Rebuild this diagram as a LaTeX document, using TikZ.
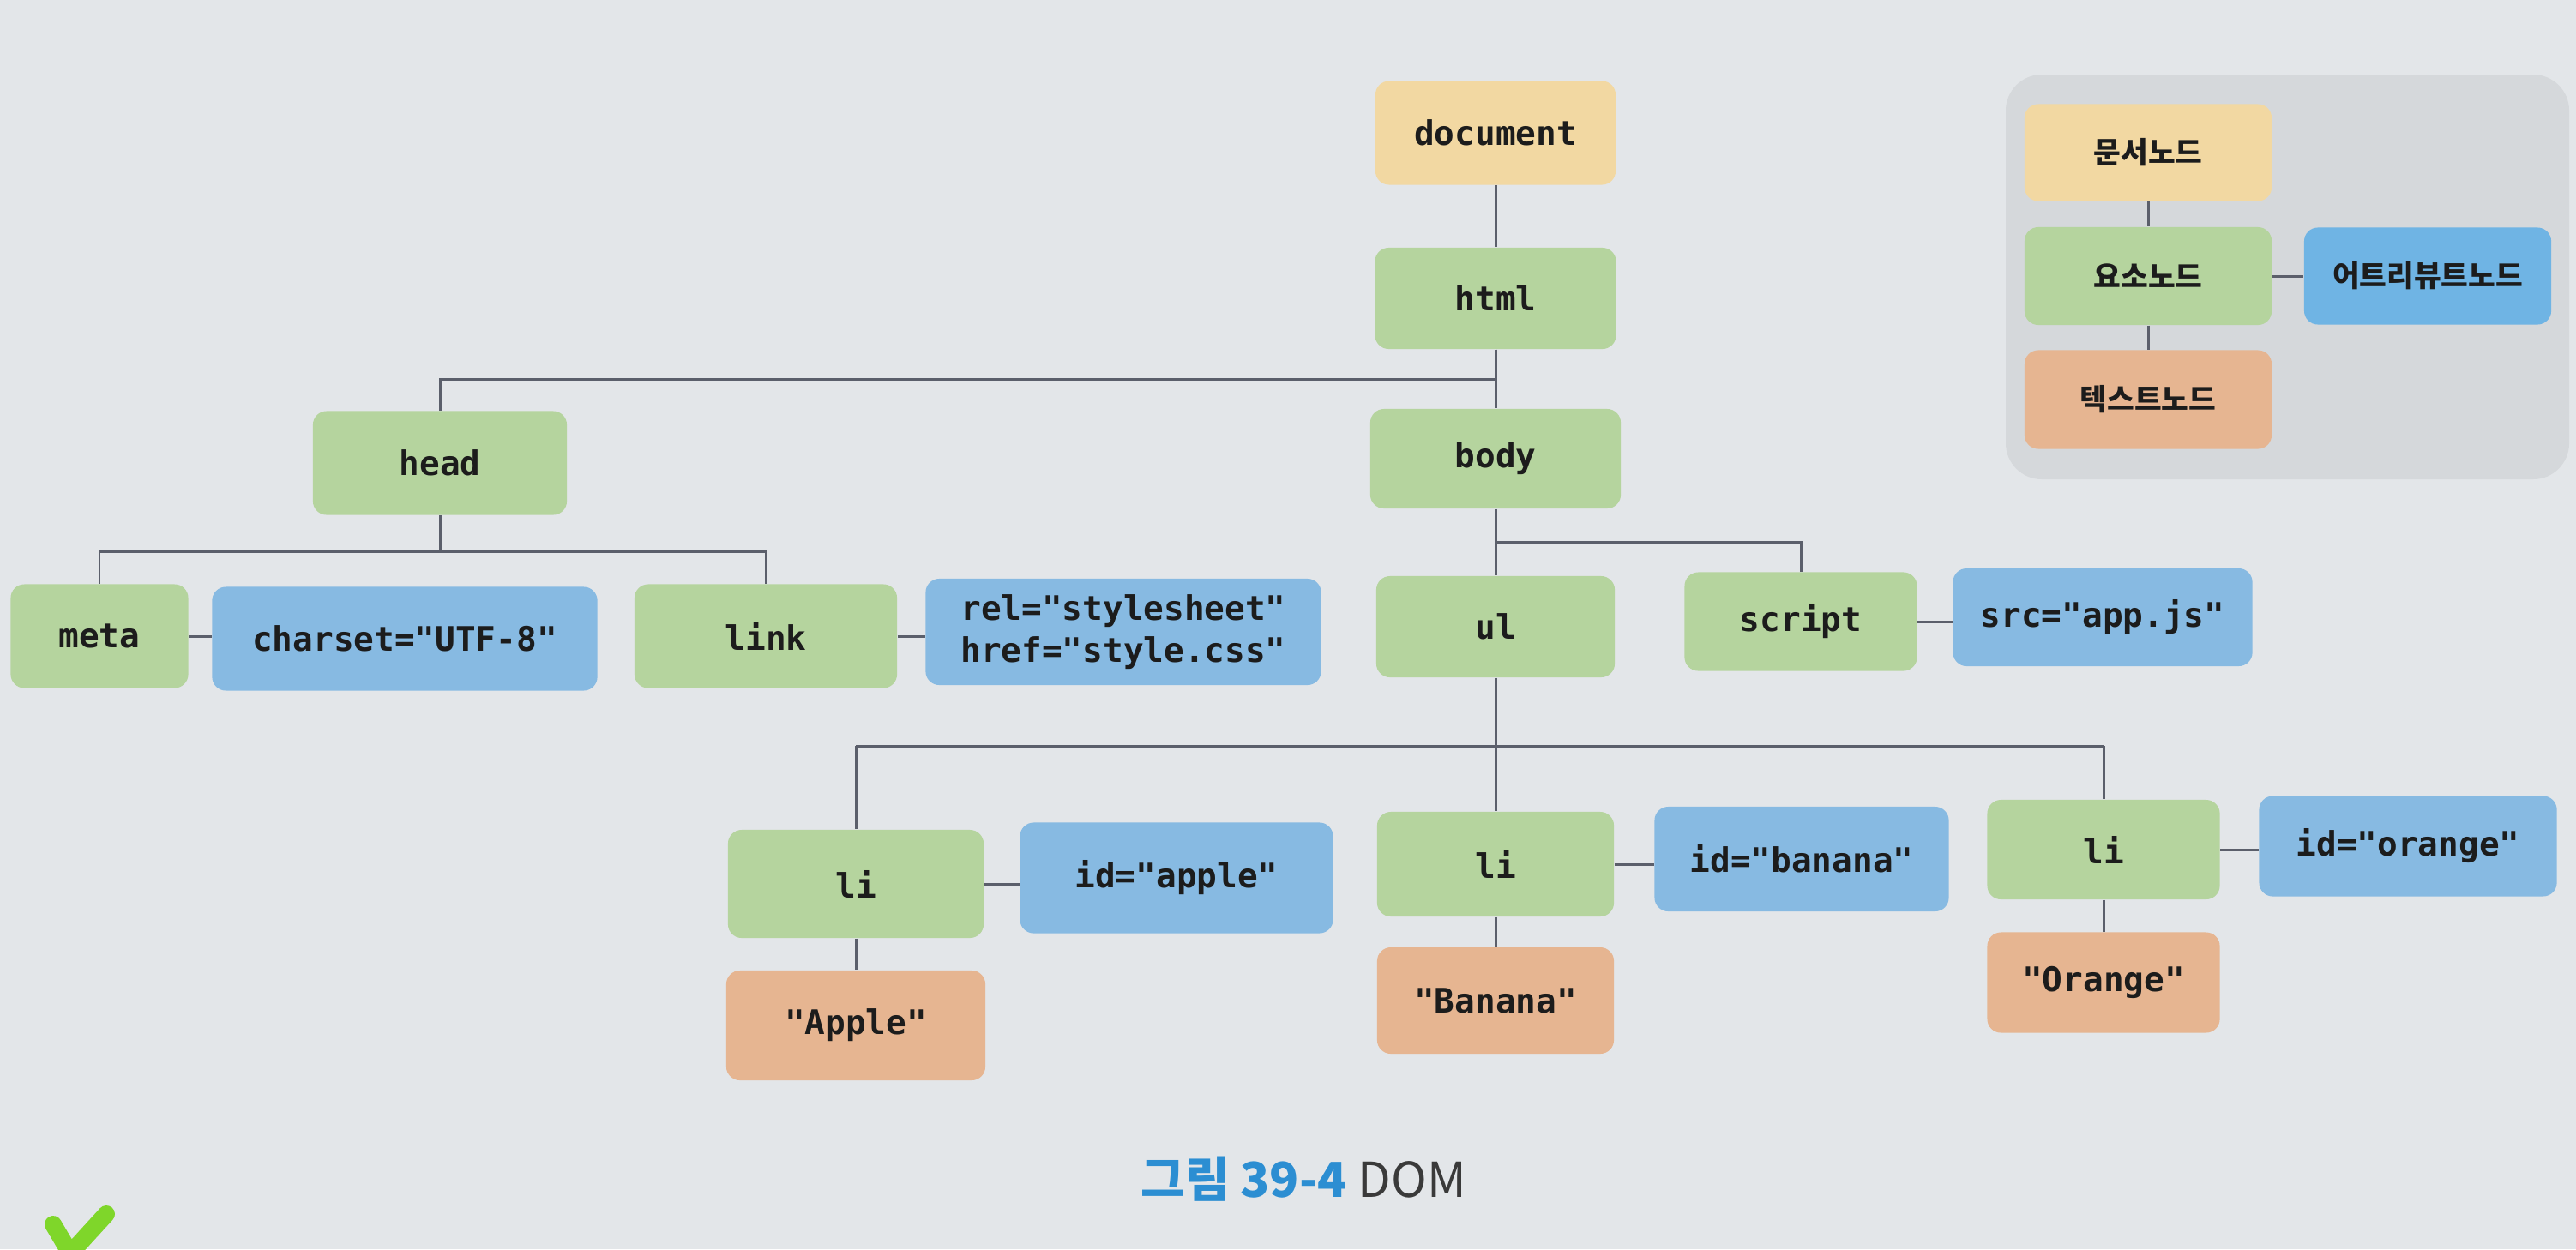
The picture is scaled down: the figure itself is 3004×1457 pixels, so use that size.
\documentclass[tikz,border=0pt]{standalone}
\usepackage{fontspec}
\newfontfamily\codefont{DejaVu Sans Mono}
\newfontfamily\krfont{Noto Sans CJK KR}
\definecolor{pagebg}{HTML}{E3E6E9}
\definecolor{panelbg}{HTML}{D5D8DB}
\definecolor{docfill}{HTML}{F2D8A2}
\definecolor{elemfill}{HTML}{B5D49E}
\definecolor{attrfill}{HTML}{87BAE2}
\definecolor{attrfillB}{HTML}{6FB4E4}
\definecolor{textfill}{HTML}{E6B591}
\definecolor{ink}{HTML}{1C1C1C}
\definecolor{linecol}{HTML}{5B5F6B}
\definecolor{capblue}{HTML}{2C8ED2}
\definecolor{capdark}{HTML}{3A3A3A}
\definecolor{tick}{HTML}{7FD62A}
\begin{document}
\begin{tikzpicture}[x=0.01cm,y=-0.01cm,
  box/.style={rounded corners=0.16cm, inner sep=0pt, align=center,
    font=\codefont\bfseries\fontsize{11.2}{14}\selectfont, text=ink},
  docnode/.style={box, fill=docfill},
  elem/.style={box, fill=elemfill},
  attr/.style={box, fill=attrfill},
  txt/.style={box, fill=textfill},
  kr/.style={font=\krfont\bfseries\fontsize{9.8}{12}\selectfont},
  conn/.style={draw=linecol, line width=0.85pt}]
\useasboundingbox (0,0) rectangle (3004,1457);
\fill[pagebg] (0,0) rectangle (3004,1457);

% legend panel
\fill[panelbg, rounded corners=0.42cm] (2339,87) rectangle (2996,559);

% tree nodes
\node[docnode, minimum width=2.80cm, minimum height=1.21cm] (document) at (1744,155) {document};
\node[elem, minimum width=2.81cm, minimum height=1.18cm] (html) at (1744,348) {html};
\node[elem, minimum width=2.96cm, minimum height=1.21cm] (head) at (513,540) {head};
\node[elem, minimum width=2.92cm, minimum height=1.16cm] (body) at (1744,535) {body};
\node[elem, minimum width=2.07cm, minimum height=1.21cm] (meta) at (116,742) {meta};
\node[attr, minimum width=4.49cm, minimum height=1.21cm] (charset) at (472,745) {charset="UTF-8"};
\node[elem, minimum width=3.06cm, minimum height=1.21cm] (link) at (893,742) {link};
\node[attr, minimum width=4.61cm, minimum height=1.24cm] (relhref) at (1310,737) {rel="stylesheet"\\href="style.css"};
\node[elem, minimum width=2.78cm, minimum height=1.18cm] (ul) at (1744,731) {ul};
\node[elem, minimum width=2.71cm, minimum height=1.15cm] (script) at (2100,725) {script};
\node[attr, minimum width=3.49cm, minimum height=1.14cm] (src) at (2452,720) {src="app.js"};
\node[elem, minimum width=2.98cm, minimum height=1.26cm] (li1) at (998,1031) {li};
\node[attr, minimum width=3.65cm, minimum height=1.29cm] (idapple) at (1372,1024) {id="apple"};
\node[elem, minimum width=2.76cm, minimum height=1.22cm] (li2) at (1744,1008) {li};
\node[attr, minimum width=3.43cm, minimum height=1.22cm] (idbanana) at (2101,1002) {id="banana"};
\node[elem, minimum width=2.71cm, minimum height=1.16cm] (li3) at (2453,991) {li};
\node[attr, minimum width=3.47cm, minimum height=1.17cm] (idorange) at (2808,987) {id="orange"};
\node[txt, minimum width=3.02cm, minimum height=1.28cm] (apple) at (998,1196) {"Apple"};
\node[txt, minimum width=2.76cm, minimum height=1.24cm] (banana) at (1744,1167) {"Banana"};
\node[txt, minimum width=2.71cm, minimum height=1.17cm] (orange) at (2453,1146) {"Orange"};

% legend nodes
\node[docnode, kr, minimum width=2.88cm, minimum height=1.13cm] (lgdoc) at (2505,178) {문서노드};
\node[elem, kr, minimum width=2.88cm, minimum height=1.14cm] (lgelem) at (2505,322) {요소노드};
\node[box, fill=attrfillB, kr, minimum width=2.88cm, minimum height=1.13cm] (lgattr) at (2831,322) {어트리뷰트노드};
\node[txt, kr, minimum width=2.88cm, minimum height=1.15cm] (lgtext) at (2505,466) {텍스트노드};

% bus levels
\coordinate (busA) at (0,442);
\coordinate (busB) at (0,643);
\coordinate (busC) at (0,632);
\coordinate (busD) at (0,870);

% connectors
\draw[conn] (document.south) -- (html.north);
\draw[conn] (html.south) -- (body.north);
\draw[conn] (html.south) |- (head.north |- busA) -- (head.north);
\draw[conn] (head.south) |- (meta.north |- busB) -- (meta.north);
\draw[conn] (head.south |- busB) -| (link.north);
\draw[conn] (body.south) -- (ul.north);
\draw[conn] (body.south |- busC) -| (script.north);
\draw[conn] (ul.south) -- (li2.north);
\draw[conn] (li1.north |- busD) -- (li3.north |- busD);
\draw[conn] (li1.north |- busD) -- (li1.north);
\draw[conn] (li3.north |- busD) -- (li3.north);
\draw[conn] (meta.east) -- (meta.east -| charset.west);
\draw[conn] (link.east) -- (link.east -| relhref.west);
\draw[conn] (script.east) -- (script.east -| src.west);
\draw[conn] (li1.east) -- (li1.east -| idapple.west);
\draw[conn] (li2.east) -- (li2.east -| idbanana.west);
\draw[conn] (li3.east) -- (li3.east -| idorange.west);
\draw[conn] (li1.south) -- (apple.north);
\draw[conn] (li2.south) -- (banana.north);
\draw[conn] (li3.south) -- (orange.north);
\draw[conn] (lgdoc.south) -- (lgelem.north);
\draw[conn] (lgelem.south) -- (lgtext.north);
\draw[conn] (lgelem.east) -- (lgattr.west);

% caption
\node[font=\krfont\fontsize{16}{19}\selectfont, inner sep=0pt] (caption) at (1520,1375)
  {\textcolor{capblue}{\bfseries 그림 39-4} \textcolor{capdark}{DOM}};

% green tick mark at the page corner
\draw[tick, line width=0.2cm, line cap=round, line join=round] (62,1428) -- (82,1462) -- (124,1416);
\end{tikzpicture}
\end{document}
